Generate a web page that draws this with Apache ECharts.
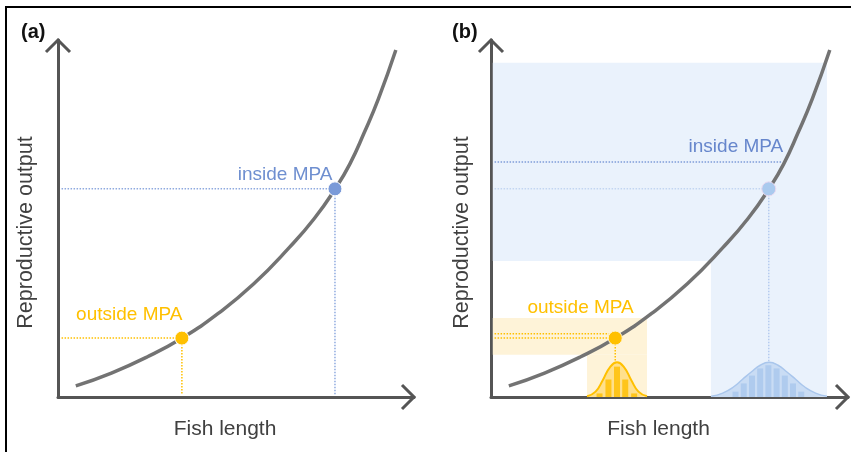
<!DOCTYPE html>
<html>
<head>
<meta charset="utf-8">
<script src="https://cdn.jsdelivr.net/npm/echarts@6/dist/echarts.min.js"></script>
<style>html,body{margin:0;padding:0;background:#fff;}#c{width:851px;height:452px;}</style>
</head>
<body>
<div id="c"></div>
<script>
// ---- data ----
const panelLabels = ['(a)', '(b)'];
const xName = 'Fish length';
const yName = 'Reproductive output';
const curveLength = [5, 15, 25, 35, 45, 55, 65, 72, 78, 82, 86, 90, 94.9];
const curveOutput = [3.1, 6.7, 11.2, 16.6, 23.4, 31.7, 41.9, 50.0, 58.5, 65.3, 74.0, 83.5, 97.2];
const outsidePoint = [34.8, 16.5];
const insidePoint = [77.8, 58.3];
const outsideMeanOutput = 17.7;
const insideMeanOutput = 65.8;
const insideMeanEndLength = 81.3;
const outsideMeanEndLength = 33;
// ranges of the distributions (panel b)
const outsideLengthRange = [26.9, 43.7];
const outsideOutputRange = [11.8, 22.1];
const insideLengthRange = [61.6, 94.1];
const insideOutputRange = [38.1, 93.6];
// bell curves
const outsideBellX = [26.9, 29.3, 31.3, 33.3, 35.3, 37.3, 39.3, 41.3, 43.7];
const outsideBellY = [0.2, 1.5, 4.7, 8.3, 9.7, 8.3, 4.7, 1.5, 0.2];
const insideBellX = [61.7, 64.9, 67.9, 70.4, 72.9, 75.4, 77.9, 80.4, 82.9, 85.4, 87.9, 90.9, 94.1];
const insideBellY = [0.2, 1.1, 2.8, 4.9, 7.0, 8.9, 9.7, 8.9, 7.0, 4.9, 2.8, 1.1, 0.2];
// histograms
const outsideBarsX = [30.4, 32.9, 35.3, 37.6, 40.1];
const outsideBarsY = [1.0, 4.9, 8.5, 4.9, 1.0];
const insideBarsX = [68.5, 70.8, 73.1, 75.4, 77.7, 80.0, 82.3, 84.6, 86.9];
const insideBarsY = [1.5, 3.8, 6.0, 8.0, 8.9, 8.0, 6.0, 3.8, 1.5];
const labelInside = 'inside MPA';
const labelOutside = 'outside MPA';

// ---- styles ----
const FONT = "'Liberation Sans', Arial, sans-serif";
const AXIS = '#555555';
const CURVE = '#737373';
const ORANGE = '#FFC000';
const BLUE = '#7A9AD8';
const zip = (a, b) => a.map((v, i) => [v, b[i]]);
const curve = zip(curveLength, curveOutput);

function axisPair(gi) {
  return {
    x: {
      type: 'value', gridIndex: gi, min: 0, max: 100,
      axisLine: { show: true, onZero: false, lineStyle: { color: AXIS, width: 3 } },
      axisTick: { show: false }, axisLabel: { show: false }, splitLine: { show: false },
      name: xName, nameLocation: 'middle', nameGap: 22,
      nameTextStyle: { fontSize: 21, color: '#404040', fontFamily: FONT, padding: [0, 22, 0, 0] }
    },
    y: {
      type: 'value', gridIndex: gi, min: 0, max: 100,
      axisLine: { show: true, onZero: false, lineStyle: { color: AXIS, width: 3 } },
      axisTick: { show: false }, axisLabel: { show: false }, splitLine: { show: false },
      name: yName, nameLocation: 'middle', nameGap: 21 + (gi === 1 ? -3 : 0),
      nameTextStyle: { fontSize: 21.5, color: '#404040', fontFamily: FONT, padding: [0, 28, 0, 0] }
    }
  };
}
const ax0 = axisPair(0), ax1 = axisPair(1);

function arrows(gi) {
  return {
    type: 'custom', xAxisIndex: gi, yAxisIndex: gi, z: 5, silent: true, clip: false,
    data: [[0, 100, 0], [100, 0, 1]],
    renderItem: function (params, api) {
      const p = api.coord([api.value(0), api.value(1)]);
      const s = 12;
      const pts = api.value(2) === 0
        ? [[p[0] - s, p[1] + s], [p[0], p[1]], [p[0] + s, p[1] + s]]
        : [[p[0] - s, p[1] - s], [p[0], p[1]], [p[0] - s, p[1] + s]];
      return { type: 'polyline', shape: { points: pts }, style: { stroke: AXIS, lineWidth: 3, fill: null } };
    }
  };
}
function dotted(gi, data, color, width, z) {
  return {
    type: 'line', xAxisIndex: gi, yAxisIndex: gi, data: data, showSymbol: false, silent: true,
    lineStyle: { color: color, width: width || 1.5, type: [1.5, 1.5] }, z: z || 2, clip: false
  };
}
function curveSeries(gi) {
  return {
    type: 'line', xAxisIndex: gi, yAxisIndex: gi, data: curve, smooth: 0.5,
    showSymbol: false, lineStyle: { color: CURVE, width: 3.5 }, z: 3, silent: true, clip: false
  };
}
function point(gi, pt, color, border, label, labelColor, off) {
  return {
    type: 'scatter', xAxisIndex: gi, yAxisIndex: gi, data: [pt], symbolSize: 14, z: 6, silent: true,
    itemStyle: { color: color, borderColor: border, borderWidth: 1, opacity: 1 },
    label: {
      show: true, formatter: label, position: 'left', offset: off,
      color: labelColor, fontSize: 19, fontFamily: FONT
    }
  };
}
function rect(xr, yr, color) {
  return [{ coord: [xr[0], yr[0]], itemStyle: { color: color } }, { coord: [xr[1], yr[1]] }];
}

const option = {
  animation: false,
  backgroundColor: '#ffffff',
  title: [
    { text: panelLabels[0], left: 16, top: 17, textStyle: { fontSize: 20, fontWeight: 'bold', color: '#111', fontFamily: FONT } },
    { text: panelLabels[1], left: 447, top: 17, textStyle: { fontSize: 20, fontWeight: 'bold', color: '#111', fontFamily: FONT } }
  ],
  graphic: [
    { type: 'line', shape: { x1: 5, y1: 7, x2: 851, y2: 7 }, style: { stroke: '#000', lineWidth: 2 } },
    { type: 'line', shape: { x1: 6, y1: 6, x2: 6, y2: 452 }, style: { stroke: '#000', lineWidth: 2 } }
  ],
  grid: [
    { left: 58, top: 40, width: 356, height: 357 },
    { left: 491, top: 40, width: 357, height: 357 }
  ],
  xAxis: [ax0.x, ax1.x],
  yAxis: [ax0.y, ax1.y],
  series: [
    // ---------- panel (a) ----------
    curveSeries(0),
    dotted(0, [[1, insidePoint[1]], insidePoint], '#8FAADF'),
    dotted(0, [insidePoint, [insidePoint[0], 0.6]], '#8FAADF'),
    dotted(0, [[1, outsidePoint[1]], outsidePoint], ORANGE),
    dotted(0, [outsidePoint, [outsidePoint[0], 0.6]], ORANGE),
    point(0, insidePoint, BLUE, '#ffffff', labelInside, '#6F8FD0', [10, -14]),
    point(0, outsidePoint, ORANGE, '#ffffff', labelOutside, ORANGE, [13, -23]),
    arrows(0),
    // ---------- panel (b) ----------
    {
      type: 'line', xAxisIndex: 1, yAxisIndex: 1, data: [], silent: true, z: 0,
      markArea: {
        silent: true,
        data: [
          rect([0.5, insideLengthRange[1]], insideOutputRange, '#EAF2FC'),
          rect(insideLengthRange, [0, insideOutputRange[0]], '#EAF2FC'),
          rect([0.5, outsideLengthRange[1]], outsideOutputRange, '#FEF3D8'),
          rect(outsideLengthRange, [0, outsideOutputRange[0]], '#FEF3D8')
        ]
      }
    },
    curveSeries(1),
    dotted(1, [[1, insidePoint[1]], insidePoint], '#C3D6F2'),
    dotted(1, [[1, insideMeanOutput], [insideMeanEndLength, insideMeanOutput]], '#7F9DD8'),
    dotted(1, [insidePoint, [insidePoint[0], 9.7]], '#B5CBEF'),
    dotted(1, [[1, outsidePoint[1]], outsidePoint], ORANGE),
    dotted(1, [[1, outsideMeanOutput], [outsideMeanEndLength, outsideMeanOutput]], ORANGE),
    dotted(1, [outsidePoint, [outsidePoint[0], 9.7]], ORANGE),
    {
      type: 'line', xAxisIndex: 1, yAxisIndex: 1, data: zip(insideBellX, insideBellY), smooth: true,
      showSymbol: false, silent: true, z: 2,
      lineStyle: { color: '#A9C6EC', width: 1.5 }, areaStyle: { color: '#C9DCF4', opacity: 1 }
    },
    {
      type: 'line', xAxisIndex: 1, yAxisIndex: 1, data: zip(outsideBellX, outsideBellY), smooth: true,
      showSymbol: false, silent: true, z: 2,
      lineStyle: { color: ORANGE, width: 2 }, areaStyle: { color: '#FFE08C', opacity: 1 }
    },
    {
      type: 'bar', xAxisIndex: 1, yAxisIndex: 1, data: zip(insideBarsX, insideBarsY), barWidth: 6,
      barGap: '-100%', silent: true, z: 3, itemStyle: { color: '#AFCBEE' }
    },
    {
      type: 'bar', xAxisIndex: 1, yAxisIndex: 1, data: zip(outsideBarsX, outsideBarsY), barWidth: 6,
      barGap: '-100%', silent: true, z: 3, itemStyle: { color: '#FFC51A' }
    },
    point(1, insidePoint, '#AACAEE', '#E9D9F0', labelInside, '#6686CC', [27, -42]),
    point(1, outsidePoint, ORANGE, '#FFF3D0', labelOutside, ORANGE, [31, -30]),
    arrows(1)
  ]
};
const chart = echarts.init(document.getElementById('c'), null, { renderer: 'canvas' });
chart.setOption(option);
</script>
</body>
</html>
